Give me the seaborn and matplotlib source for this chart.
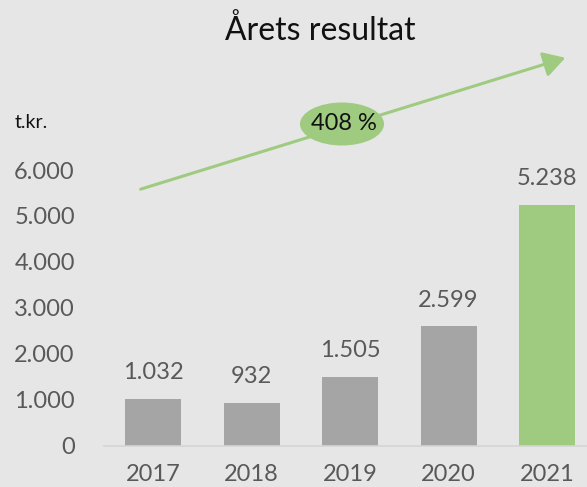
import pandas as pd
import matplotlib.pyplot as plt
import seaborn as sns
from matplotlib.patches import Ellipse, FancyArrowPatch

years = ["2017", "2018", "2019", "2020", "2021"]
results = [1032, 932, 1505, 2599, 5238]
bar_colors = ["#a5a5a5", "#a5a5a5", "#a5a5a5", "#a5a5a5", "#9fcb80"]
growth_label = "408 %"

BG = "#e6e6e6"
GREEN = "#9fcb80"
TEXT_GREY = "#595959"


def dk(v):
    # Danish thousands separator
    return f"{v:,}".replace(",", ".")


sns.set_theme(style="white")
plt.rcParams["font.family"] = ["Lato", "DejaVu Sans"]

df = pd.DataFrame({"year": years, "result": results})

fig = plt.figure(figsize=(5.87, 4.87), dpi=100, facecolor=BG)
ax = fig.add_axes([104 / 587, 41 / 487, 483 / 587, 276 / 487])
ax.set_facecolor(BG)

sns.barplot(data=df, x="year", y="result", hue="year", palette=bar_colors,
            legend=False, width=0.57, ax=ax, saturation=1, linewidth=0)

for i, v in enumerate(results):
    ax.annotate(dk(v), (i, v), xytext=(0, 19), textcoords="offset points",
                ha="center", va="center", fontsize=17, color=TEXT_GREY)

ax.set_ylim(0, 6000)
ax.set_xlim(-0.5, 4.406)
ax.set_yticks(range(0, 7000, 1000))
ax.set_yticklabels([dk(t) for t in range(0, 7000, 1000)])
ax.tick_params(axis="y", length=0, pad=21, labelsize=17, labelcolor=TEXT_GREY)
ax.tick_params(axis="x", length=0, pad=13, labelsize=17, labelcolor=TEXT_GREY)
ax.set_xlabel("")
ax.set_ylabel("")
for side in ["top", "right", "left"]:
    ax.spines[side].set_visible(False)
ax.spines["bottom"].set_color("#d4d4d4")
ax.spines["bottom"].set_linewidth(1.2)

fig.text(320 / 587, 1 - 31 / 487, "Årets resultat", ha="center", va="center",
         fontsize=23, color="#111111")
fig.text(15 / 587, 1 - 123 / 487, "t.kr.", ha="left", va="center",
         fontsize=14, color="#111111")

arrow = FancyArrowPatch((138 / 587, 1 - 190 / 487), (568 / 587, 1 - 57 / 487),
                        transform=fig.transFigure, arrowstyle="-|>,head_length=6,head_width=3.5",
                        color=GREEN, linewidth=2.2, mutation_scale=2.2)
fig.patches.append(arrow)

ell = Ellipse((342 / 587, 1 - 124 / 487), 84 / 587, 43 / 487,
              transform=fig.transFigure, facecolor=GREEN, edgecolor="none")
fig.patches.append(ell)
fig.text(344 / 587, 1 - 124 / 487, growth_label, ha="center", va="center",
         fontsize=17, color="#111111")

fig.savefig("out.png", dpi=100, facecolor=BG)
